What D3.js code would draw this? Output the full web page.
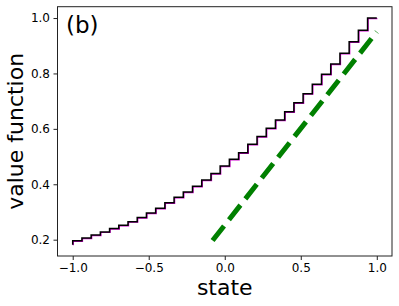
<!DOCTYPE html>
<html>
<head>
<meta charset="utf-8">
<script src="https://cdn.jsdelivr.net/npm/d3@7"></script>
<style>
  html, body { margin: 0; padding: 0; background: #fff; }
  svg { display: block; font-family: "DejaVu Sans", sans-serif; }
</style>
</head>
<body>
<svg id="chart" width="399" height="306"></svg>
<script>
// step value function, one level per grid state (34 states from -1 to 1)
const stateStart = -1;
const stateEnd = 1;
const stepValues = [
  0.182, 0.196, 0.206, 0.217, 0.228, 0.240, 0.252, 0.265, 0.280, 0.296,
  0.313, 0.333, 0.353, 0.372, 0.393, 0.415, 0.439, 0.466, 0.490, 0.514,
  0.544, 0.572, 0.602, 0.632, 0.662, 0.694, 0.727, 0.761, 0.797, 0.834,
  0.873, 0.914, 0.956, 1.000
];
// linear approximation (green dashed)
const linearX = [-0.08, 1.0];
const linearY = [0.197, 0.95];

const xTicks = [-1, -0.5, 0, 0.5, 1];
const xTickLabels = ["\u22121.0", "\u22120.5", "0.0", "0.5", "1.0"];
const yTicks = [0.2, 0.4, 0.6, 0.8, 1.0];
const yTickLabels = ["0.2", "0.4", "0.6", "0.8", "1.0"];

const panelLabel = "(b)";
const xLabel = "state";
const yLabel = "value function";

const svg = d3.select('#chart');
const m = { left: 57.5, right: 392, top: 6.7, bottom: 256 };

const n = stepValues.length;
const states = stepValues.map((v, i) => stateStart + i * (stateEnd - stateStart) / (n - 1));
const stepData = states.map((s, i) => ({ x: s, y: stepValues[i] }));
const linData = linearX.map((s, i) => ({ x: s, y: linearY[i] }));

// matplotlib style 5% margins
const allY = stepValues.concat(linearY);
const yMin = d3.min(allY), yMax = d3.max(allY);
const yPad = (yMax - yMin) * 0.05;
const xPad = (stateEnd - stateStart) * 0.05;

const x = d3.scaleLinear().domain([stateStart - xPad, stateEnd + xPad]).range([m.left, m.right]);
const y = d3.scaleLinear().domain([yMin - yPad, yMax + yPad]).range([m.bottom, m.top]);

const plot = svg.append('g');

const stepLine = d3.line().x(d => x(d.x)).y(d => y(d.y)).curve(d3.curveStepBefore);

// magenta trace peeking from under the black one
plot.append('path')
  .datum(stepData)
  .attr('d', stepLine)
  .attr('transform', 'translate(0.6,0.6)')
  .attr('fill', 'none')
  .attr('stroke', '#d000d0')
  .attr('stroke-width', 1.2);

plot.append('path')
  .datum(stepData)
  .attr('d', stepLine)
  .attr('fill', 'none')
  .attr('stroke', '#000')
  .attr('stroke-width', 1.5);

plot.append('path')
  .datum(linData)
  .attr('d', d3.line().x(d => x(d.x)).y(d => y(d.y)))
  .attr('fill', 'none')
  .attr('stroke', '#008000')
  .attr('stroke-width', 5)
  .attr('stroke-dasharray', '18.5,8');

// frame
svg.append('rect')
  .attr('x', m.left).attr('y', m.top)
  .attr('width', m.right - m.left).attr('height', m.bottom - m.top)
  .attr('fill', 'none').attr('stroke', '#222').attr('stroke-width', 1);

const fmtX = d => xTickLabels[xTicks.indexOf(d)];
const fmtY = d => yTickLabels[yTicks.indexOf(d)];

const gx = svg.append('g')
  .attr('transform', 'translate(0,' + m.bottom + ')')
  .call(d3.axisBottom(x).tickValues(xTicks).tickFormat(fmtX).tickSize(4).tickPadding(3.5));
const gy = svg.append('g')
  .attr('transform', 'translate(' + m.left + ',0)')
  .call(d3.axisLeft(y).tickValues(yTicks).tickFormat(fmtY).tickSize(4).tickPadding(3.5));

[gx, gy].forEach(g => {
  g.select('.domain').remove();
  g.selectAll('.tick line').attr('stroke', '#222');
  g.selectAll('.tick text')
    .attr('fill', '#000')
    .style('font-family', '"DejaVu Sans", sans-serif')
    .style('font-size', '12px');
});

svg.append('text')
  .attr('x', (m.left + m.right) / 2)
  .attr('y', 295)
  .attr('text-anchor', 'middle')
  .style('font-size', '22px')
  .text(xLabel);

svg.append('text')
  .attr('transform', 'translate(23,' + ((m.top + m.bottom) / 2) + ') rotate(-90)')
  .attr('text-anchor', 'middle')
  .style('font-size', '22px')
  .text(yLabel);

svg.append('text')
  .attr('x', 66)
  .attr('y', 32.5)
  .style('font-size', '23px')
  .text(panelLabel);
</script>
</body>
</html>
